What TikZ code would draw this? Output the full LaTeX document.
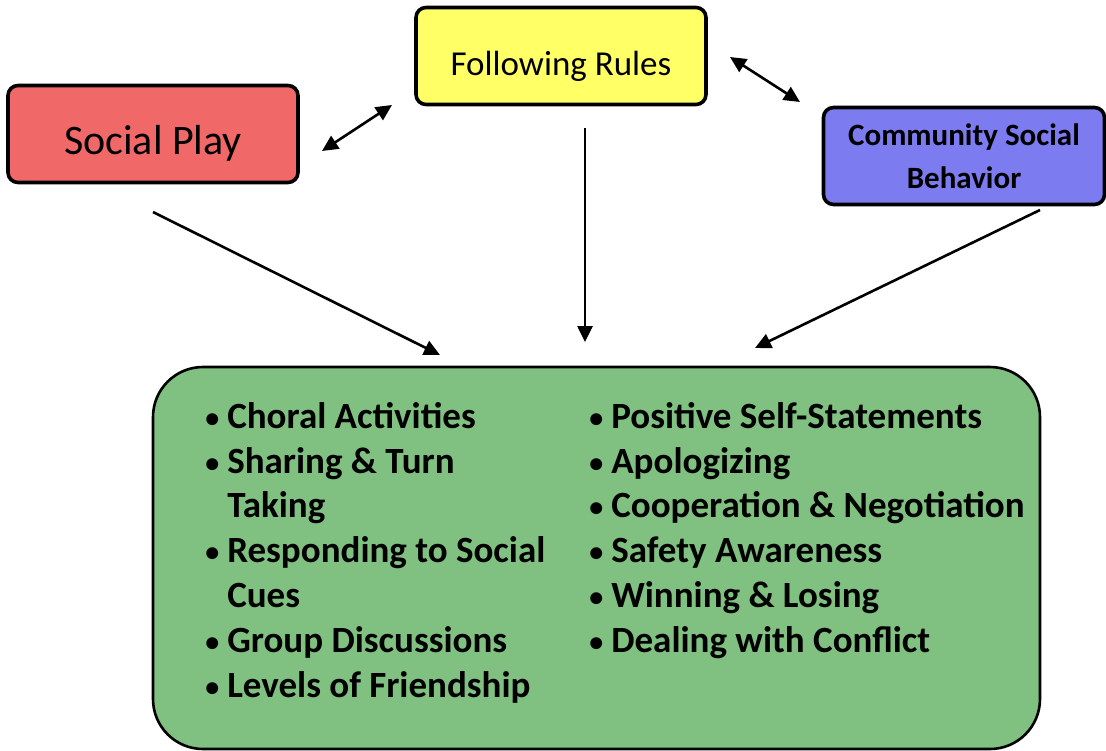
\documentclass[tikz,border=0pt]{standalone}
\usepackage{fontspec}
\setmainfont{Carlito}
\usetikzlibrary{arrows.meta,positioning}

\definecolor{playred}{RGB}{240,104,104}
\definecolor{rulesyellow}{RGB}{255,255,102}
\definecolor{commblue}{RGB}{124,124,240}
\definecolor{skillgreen}{RGB}{128,192,128}

\newcommand{\skillbullet}{\makebox[24pt][l]{\hspace*{2pt}\raisebox{1pt}{\fontsize{28}{28}\selectfont\textbullet}}}

\begin{document}
\begin{tikzpicture}[x=1pt,y=-1pt,>={Triangle[length=16pt,width=15pt]},line width=2.6pt]
  \tikzstyle{topic}=[draw=black,line width=3.6pt,rounded corners=10pt,inner sep=0pt,minimum height=97pt]
  \tikzstyle{skills}=[align=left,anchor=north west,inner sep=0pt,font=\fontsize{37}{44.8}\selectfont\bfseries]
  \useasboundingbox (0,0) rectangle (1106,750);

  \node[topic,fill=playred,minimum width=290pt,text height=41pt,text depth=0pt,font=\fontsize{42}{48}\selectfont] (play) at (153,134) {Social Play};
  \node[topic,fill=rulesyellow,minimum width=290pt,text height=39pt,text depth=0pt,font=\fontsize{35}{40}\selectfont] (rules) at (561,56) {Following Rules};
  \node[topic,fill=commblue,minimum width=281pt,align=center,font=\fontsize{31}{43}\selectfont\bfseries] (comm) at (964,156) {Community Social\\Behavior};

  \node[draw=black,line width=2.6pt,fill=skillgreen,rounded corners=50pt,minimum width=887pt,minimum height=382pt] (green) at (596.5,558) {};
  \node[skills] (leftcol) at (202,401) {%
    \skillbullet Choral Activities\\
    \skillbullet Sharing \& Turn\\
    \hspace*{24pt}Taking\\
    \skillbullet Responding to Social\\
    \hspace*{24pt}Cues\\
    \skillbullet Group Discussions\\
    \skillbullet Levels of Friendship};
  \node[skills] (rightcol) at (586,401) {%
    \skillbullet Positive Self-Statements\\
    \skillbullet Apologizing\\
    \skillbullet Cooperation \& Negotiation\\
    \skillbullet Safety Awareness\\
    \skillbullet Winning \& Losing\\
    \skillbullet Dealing with Conflict};

  % arrow ends
  \coordinate (pr1) at (322,151);
  \coordinate (pr2) at (392,105);
  \coordinate (rc1) at (730,57);
  \coordinate (rc2) at (800,102);
  \coordinate (pg1) at (153,212);
  \coordinate (pg2) at (440,355);
  \coordinate (rg1) at (585,128);
  \coordinate (rg2) at (585,342);
  \coordinate (cg1) at (1040,210);
  \coordinate (cg2) at (755,348);

  \draw[<->] (pr1) -- (pr2);
  \draw[<->] (rc1) -- (rc2);
  \draw[->] (pg1) -- (pg2);
  \draw[->] (rg1) -- (rg2);
  \draw[->] (cg1) -- (cg2);
\end{tikzpicture}
\end{document}
